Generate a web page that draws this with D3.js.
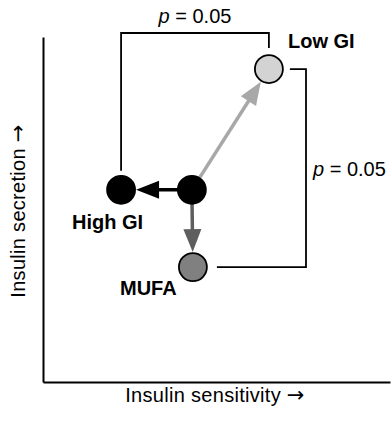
<!DOCTYPE html>
<html>
<head>
<meta charset="utf-8">
<script src="https://cdn.jsdelivr.net/npm/d3@7"></script>
<style>
  html, body { margin: 0; padding: 0; background: #fff; }
  svg { display: block; font-family: "Liberation Sans", Arial, sans-serif; }
</style>
</head>
<body>
<svg id="chart" width="392" height="421"></svg>
<script>
// ---- data ----
const groups      = ["Baseline", "High GI", "MUFA", "Low GI"];
const sensitivity = [4.29, 2.25, 4.32, 6.51];   // x (arbitrary units)
const secretion   = [5.57, 5.57, 3.33, 9.07];   // y (arbitrary units)
const arrowsTo    = ["High GI", "MUFA", "Low GI"];
const comparisons = [["High GI", "Low GI"], ["Low GI", "MUFA"]];
const pLabels     = ["0.05", "0.05"];
const xTitle = "Insulin sensitivity";
const yTitle = "Insulin secretion";

// ---- styles ----
const fillOf  = {"Baseline": "#000", "High GI": "#000", "MUFA": "#808080", "Low GI": "#d3d3d3"};
const arrowColor = {"High GI": "#000", "MUFA": "#5e5e5e", "Low GI": "#a8a8a8"};

const svg = d3.select("#chart");
const x = d3.scaleLinear().domain([0, 10]).range([43, 390]);
const y = d3.scaleLinear().domain([0, 10]).range([382, 37]);
const R = 14;

const pts = groups.map((g, i) => ({g, x: x(sensitivity[i]), y: y(secretion[i])}));
const P = Object.fromEntries(pts.map(p => [p.g, p]));

// axes
svg.append("g").attr("transform", `translate(0,${y(0)})`)
  .call(d3.axisBottom(x).ticks(0).tickSizeOuter(0))
  .call(g => g.select(".domain").attr("stroke", "#000").attr("stroke-width", 2));
svg.append("g").attr("transform", `translate(${x(0)},0)`)
  .call(d3.axisLeft(y).ticks(0).tickSizeOuter(0))
  .call(g => g.select(".domain").attr("stroke", "#000").attr("stroke-width", 2));
svg.selectAll(".tick").remove();

function titleText(sel, txt) {
  sel.attr("text-anchor", "middle").attr("font-size", 20).attr("letter-spacing", 0.3);
  sel.append("tspan").text(txt + " ");
  sel.append("tspan").attr("font-family", "DejaVu Sans").attr("font-size", 21).text("\u2192");
}
titleText(svg.append("text").attr("x", 215).attr("y", 402), xTitle);
titleText(svg.append("text").attr("transform", `translate(${25},${211}) rotate(-90)`), yTitle);

// brackets
const b0a = P[comparisons[0][0]], b0b = P[comparisons[0][1]];
const topY = 33;
svg.append("path")
  .attr("d", `M${b0a.x},${b0a.y - R - 5}V${topY}H${b0b.x}V${b0b.y - R - 7}`)
  .attr("fill", "none").attr("stroke", "#000").attr("stroke-width", 1.8);
const t0 = svg.append("text").attr("x", (b0a.x + b0b.x) / 2).attr("y", 23)
  .attr("text-anchor", "middle").attr("font-size", 20);
t0.append("tspan").attr("font-style", "italic").text("p");
t0.append("tspan").text(" = " + pLabels[0]);

const b1a = P[comparisons[1][0]], b1b = P[comparisons[1][1]];
const rightX = 306;
svg.append("path")
  .attr("d", `M${b1a.x + R + 7},${b1a.y}H${rightX}V${b1b.y}H${b1b.x + R + 10}`)
  .attr("fill", "none").attr("stroke", "#000").attr("stroke-width", 1.8);
const t1 = svg.append("text").attr("x", rightX + 7).attr("y", 176)
  .attr("text-anchor", "start").attr("font-size", 20);
t1.append("tspan").attr("font-style", "italic").text("p");
t1.append("tspan").text(" = " + pLabels[1]);

// arrows
const base = P["Baseline"];
const headLen = 23, headHalf = 9;
arrowsTo.forEach(g => {
  const t = P[g];
  const dx = t.x - base.x, dy = t.y - base.y, L = Math.hypot(dx, dy);
  const ux = dx / L, uy = dy / L;
  const tipX = t.x - ux * (R + 1), tipY = t.y - uy * (R + 1);
  const bx = tipX - ux * headLen, by = tipY - uy * headLen;
  svg.append("line").attr("x1", base.x).attr("y1", base.y).attr("x2", bx + ux * 2).attr("y2", by + uy * 2)
    .attr("stroke", arrowColor[g]).attr("stroke-width", 3.5);
  svg.append("path")
    .attr("d", `M${tipX},${tipY}L${bx - uy * headHalf},${by + ux * headHalf}L${bx + uy * headHalf},${by - ux * headHalf}Z`)
    .attr("fill", arrowColor[g]);
});

// circles
svg.selectAll("circle.pt").data(pts).join("circle").attr("class", "pt")
  .attr("cx", d => d.x).attr("cy", d => d.y).attr("r", R)
  .attr("fill", d => fillOf[d.g]).attr("stroke", "#000").attr("stroke-width", 1.8);

// labels
const labelPos = {"High GI": [72, 229], "MUFA": [120, 295], "Low GI": [288, 48]};
Object.entries(labelPos).forEach(([g, [lx, ly]]) => {
  svg.append("text").attr("x", lx).attr("y", ly).attr("text-anchor", "start")
    .attr("font-size", 20).attr("font-weight", "bold").text(g);
});
</script>
</body>
</html>
